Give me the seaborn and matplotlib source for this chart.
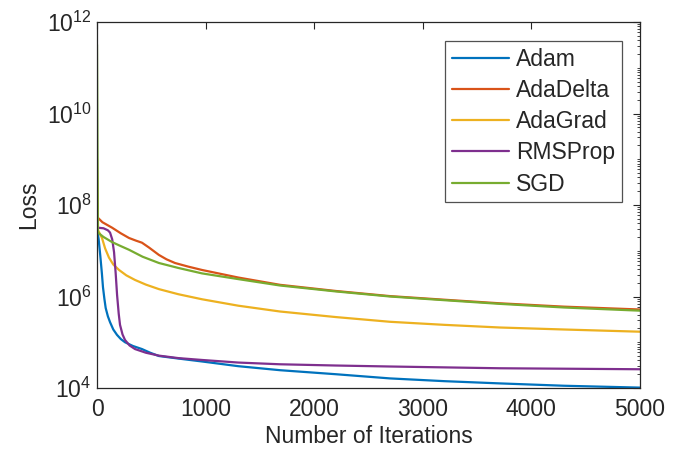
import numpy as np
import pandas as pd
import matplotlib
matplotlib.use("Agg")
import matplotlib.pyplot as plt
import matplotlib.ticker as mticker
import seaborn as sns

# ---- data ----
optimizers = ["Adam", "AdaDelta", "AdaGrad", "RMSProp", "SGD"]
colors = ["#0072BD", "#D95319", "#EDB120", "#7E2F8E", "#77AC30"]

adam_iter = [0, 15, 30, 45, 55, 68, 80, 100, 120, 150, 184, 220, 258, 330, 414,
             490, 570, 750, 967, 1300, 1685, 2200, 2698, 3200, 3711, 4300, 5000]
adam_loss = [3.2e7, 1.8e7, 7.9e6, 3.2e6, 1.6e6, 8.9e5, 5.6e5, 3.7e5, 2.75e5,
             1.9e5, 1.45e5, 1.17e5, 1.0e5, 8.3e4, 7.1e4, 5.9e4, 5.0e4, 4.4e4,
             3.8e4, 3.0e4, 2.45e4, 2.0e4, 1.62e4, 1.41e4, 1.26e4, 1.12e4, 1.02e4]

adadelta_iter = [0, 50, 138, 220, 295, 360, 414, 480, 570, 640, 718, 840, 967,
                 1300, 1685, 2200, 2698, 3200, 3711, 4300, 5000]
adadelta_loss = [5.5e7, 4.2e7, 3.2e7, 2.4e7, 1.9e7, 1.66e7, 1.5e7, 1.17e7, 8.1e6,
                 6.5e6, 5.4e6, 4.5e6, 3.8e6, 2.6e6, 1.8e6, 1.32e6, 1.02e6, 8.5e5,
                 7.1e5, 6.0e5, 5.2e5]

adagrad_iter = [0, 10, 46, 75, 110, 150, 203, 270, 350, 450, 570, 750, 967, 1300,
                1685, 2200, 2698, 3200, 3711, 4300, 5000]
adagrad_loss = [1e9, 2.8e7, 1.9e7, 1.12e7, 7.1e6, 5.0e6, 3.8e6, 2.9e6, 2.3e6,
                1.82e6, 1.45e6, 1.12e6, 8.7e5, 6.3e5, 4.7e5, 3.55e5, 2.8e5, 2.4e5,
                2.1e5, 1.9e5, 1.7e5]

rmsprop_iter = [0, 60, 100, 120, 140, 157, 172, 185, 200, 212, 235, 258, 300, 350,
                450, 570, 750, 967, 1300, 1685, 2200, 2698, 3711, 5000]
rmsprop_loss = [3.2e7, 3.1e7, 2.8e7, 2.5e7, 1.78e7, 9.3e6, 3.2e6, 1.07e6, 4.2e5,
                2.4e5, 1.48e5, 1.12e5, 8.5e4, 7.1e4, 5.9e4, 5.1e4, 4.5e4, 4.1e4,
                3.6e4, 3.3e4, 3.1e4, 2.95e4, 2.7e4, 2.57e4]

sgd_iter = [0, 8, 60, 138, 220, 295, 420, 570, 750, 967, 1300, 1685, 2200, 2698,
            3200, 3711, 4300, 5000]
sgd_loss = [3.2e11, 2.5e7, 2.0e7, 1.55e7, 1.26e7, 1.05e7, 7.4e6, 5.4e6, 4.2e6,
            3.2e6, 2.4e6, 1.74e6, 1.29e6, 1.0e6, 8.3e5, 6.9e5, 5.75e5, 4.9e5]

x_ticks = [0, 1000, 2000, 3000, 4000, 5000]
y_ticks = [1e4, 1e6, 1e8, 1e10, 1e12]

# ---- long-form table ----
series = {
    "Adam": (adam_iter, adam_loss),
    "AdaDelta": (adadelta_iter, adadelta_loss),
    "AdaGrad": (adagrad_iter, adagrad_loss),
    "RMSProp": (rmsprop_iter, rmsprop_loss),
    "SGD": (sgd_iter, sgd_loss),
}
frames = []
for name in optimizers:
    it, lo = series[name]
    frames.append(pd.DataFrame({"Iterations": it, "Loss": lo, "Optimizer": name}))
df = pd.concat(frames, ignore_index=True)

# ---- style ----
sns.set_style("white")
plt.rcParams["font.family"] = ["Liberation Sans", "DejaVu Sans"]
plt.rcParams["mathtext.fontset"] = "custom"
plt.rcParams["mathtext.rm"] = "Liberation Sans"
plt.rcParams["mathtext.it"] = "Liberation Sans:italic"
plt.rcParams["mathtext.default"] = "regular"

axcol = "#262626"
fs = 16.5

fig = plt.figure(figsize=(6.8, 4.53), dpi=100)
ax = fig.add_axes([97 / 680, 1 - 388 / 453, (640 - 97) / 680, (388 - 22) / 453])

sns.lineplot(data=df, x="Iterations", y="Loss", hue="Optimizer",
             hue_order=optimizers, palette=colors, estimator=None,
             linewidth=1.6, ax=ax)

ax.set_yscale("log")
ax.set_xlim(0, 5000)
ax.set_ylim(1e4, 1e12)
ax.set_xticks(x_ticks)
ax.set_yticks(y_ticks)
ax.yaxis.set_major_formatter(mticker.FuncFormatter(
    lambda v, p: r"$10^{%d}$" % int(round(np.log10(v)))))
ax.yaxis.set_minor_locator(mticker.LogLocator(base=10, subs=np.arange(1, 10), numticks=100))
ax.yaxis.set_minor_formatter(mticker.NullFormatter())

ax.tick_params(axis="both", which="both", direction="in", top=True, right=True,
               colors=axcol, labelcolor=axcol, labelsize=fs)
ax.tick_params(axis="both", which="major", length=5, width=0.8)
ax.tick_params(axis="y", which="minor", length=2.5, width=0.6)
ax.tick_params(axis="x", which="major", pad=7)
ax.tick_params(axis="y", which="major", pad=4)
for s in ax.spines.values():
    s.set_color(axcol)
    s.set_linewidth(0.9)

ax.set_xlabel("Number of Iterations", fontsize=fs, color=axcol, labelpad=3)
ax.set_ylabel("Loss", fontsize=fs, color=axcol, labelpad=5)

leg = ax.legend(loc="upper right", bbox_to_anchor=((621.7 - 97) / 543, (388 - 40.7) / 366),
                borderaxespad=0, fontsize=fs, frameon=True, fancybox=False,
                edgecolor=axcol, handlelength=2.5, handletextpad=0.3,
                labelspacing=0.36, borderpad=0.3)
leg.get_frame().set_linewidth(0.9)
for line in leg.get_lines():
    line.set_linewidth(1.6)

fig.savefig("out.png", dpi=100)
